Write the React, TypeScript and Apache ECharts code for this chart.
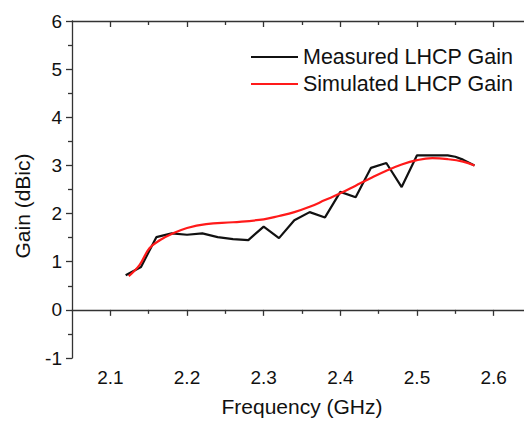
import React, { useEffect, useRef } from "react";
import * as echarts from "echarts";

const measuredFreq = [2.12, 2.14, 2.16, 2.18, 2.2, 2.22, 2.24, 2.26, 2.28, 2.3, 2.32, 2.34, 2.36, 2.38, 2.4, 2.42, 2.44, 2.46, 2.48, 2.5, 2.52, 2.54, 2.55, 2.56, 2.575];
const measuredGain = [0.72, 0.89, 1.51, 1.59, 1.56, 1.59, 1.51, 1.47, 1.45, 1.73, 1.49, 1.86, 2.03, 1.92, 2.45, 2.34, 2.95, 3.05, 2.55, 3.21, 3.21, 3.21, 3.18, 3.12, 3.0];

const simFreq = [2.124, 2.138, 2.151, 2.165, 2.182, 2.2, 2.225, 2.26, 2.3, 2.32, 2.34, 2.36, 2.38, 2.4, 2.42, 2.44, 2.46, 2.48, 2.5, 2.52, 2.54, 2.56, 2.575];
const simGain = [0.7, 0.93, 1.28, 1.45, 1.59, 1.7, 1.78, 1.82, 1.88, 1.95, 2.03, 2.14, 2.28, 2.42, 2.58, 2.74, 2.89, 3.02, 3.11, 3.15, 3.13, 3.08, 3.0];

const xMajorTicks = [2.1, 2.2, 2.3, 2.4, 2.5, 2.6];
const xMinorTicks = [2.15, 2.25, 2.35, 2.45, 2.55, 2.65];

const FONT = "'Liberation Sans', Arial, sans-serif";
const AXIS_COLOR = "#333";

export default function App() {
  const ref = useRef<HTMLDivElement>(null);
  useEffect(() => {
    if (!ref.current) return;
    const chart = echarts.init(ref.current, undefined, { renderer: "svg" });
    const baseX = {
      type: "value" as const,
      min: 2.05,
      max: 2.65,
      splitLine: { show: false },
    };
    chart.setOption({
      animation: false,
      backgroundColor: "#fff",
      textStyle: { fontFamily: FONT },
      grid: { left: 72, right: 0, top: 21, bottom: 63, containLabel: false, outerBoundsMode: "none" },
      legend: {
        orient: "vertical",
        left: 245,
        top: 41,
        itemWidth: 47,
        itemHeight: 14,
        itemGap: 5,
        itemStyle: { opacity: 0 },
        textStyle: { fontSize: 21.5, color: "#111", fontFamily: FONT },
        data: ["Measured LHCP Gain", "Simulated LHCP Gain"],
      },
      xAxis: [
        {
          ...baseX,
          position: "bottom",
          name: "Frequency (GHz)",
          nameLocation: "middle",
          nameGap: 38,
          nameTextStyle: { fontSize: 21, color: "#111", fontFamily: FONT },
          axisLine: { show: true, lineStyle: { color: AXIS_COLOR, width: 1.3 } },
          axisTick: { show: true, length: 6, customValues: xMajorTicks, lineStyle: { color: AXIS_COLOR, width: 1.3 } },
          axisLabel: {
            show: true,
            customValues: xMajorTicks,
            margin: 10,
            fontSize: 19,
            color: "#111",
            fontFamily: FONT,
            formatter: (v: number) => v.toFixed(1),
          },
        },
        {
          ...baseX,
          position: "bottom",
          axisLine: { show: false },
          axisTick: { show: true, length: 4, customValues: xMinorTicks, lineStyle: { color: AXIS_COLOR, width: 1.3 } },
          axisLabel: { show: false, customValues: xMinorTicks },
        },
        {
          ...baseX,
          position: "top",
          axisLine: { show: true, lineStyle: { color: AXIS_COLOR, width: 1.3 } },
          axisTick: { show: true, inside: true, length: 6, customValues: xMajorTicks, lineStyle: { color: AXIS_COLOR, width: 1.3 } },
          axisLabel: { show: false, customValues: xMajorTicks },
        },
        {
          ...baseX,
          position: "top",
          axisLine: { show: false },
          axisTick: { show: true, inside: true, length: 4, customValues: xMinorTicks, lineStyle: { color: AXIS_COLOR, width: 1.3 } },
          axisLabel: { show: false, customValues: xMinorTicks },
        },
      ],
      yAxis: [
        {
          type: "value",
          min: -1,
          max: 6,
          interval: 1,
          position: "left",
          name: "Gain (dBic)",
          nameLocation: "middle",
          nameGap: 39,
          nameRotate: 90,
          nameTextStyle: { fontSize: 21, color: "#111", fontFamily: FONT, padding: [0, 33, 0, 0] },
          axisLine: { show: true, lineStyle: { color: AXIS_COLOR, width: 1.3 } },
          axisTick: { show: true, length: 6, lineStyle: { color: AXIS_COLOR, width: 1.3 } },
          minorTick: { show: true, splitNumber: 2, length: 4, lineStyle: { color: AXIS_COLOR, width: 1.3 } },
          axisLabel: { margin: 10, fontSize: 19, color: "#111", fontFamily: FONT },
          splitLine: { show: false },
        },
        {
          type: "value",
          min: -1,
          max: 6,
          interval: 1,
          position: "right",
          axisLine: { show: true, lineStyle: { color: AXIS_COLOR, width: 1.3 } },
          axisTick: { show: true, inside: true, length: 6 },
          axisLabel: { show: false },
          splitLine: { show: false },
        },
      ],
      series: [
        {
          name: "Measured LHCP Gain",
          type: "line",
          xAxisIndex: 0,
          yAxisIndex: 0,
          symbol: "none",
          lineStyle: { color: "#111", width: 2.2 },
          itemStyle: { color: "#111" },
          data: measuredFreq.map((f, i) => [f, measuredGain[i]]),
        },
        {
          name: "Simulated LHCP Gain",
          type: "line",
          xAxisIndex: 0,
          yAxisIndex: 0,
          symbol: "none",
          smooth: 0.4,
          lineStyle: { color: "#ff1a1a", width: 2.2 },
          itemStyle: { color: "#ff1a1a" },
          data: simFreq.map((f, i) => [f, simGain[i]]),
        },
      ],
    });
    return () => chart.dispose();
  }, []);
  return (
    <div style={{ position: "fixed", left: 0, top: 0, width: 524, height: 421, overflow: "hidden", background: "#fff" }}>
      <div ref={ref} style={{ width: 532, height: 421 }} />
    </div>
  );
}
